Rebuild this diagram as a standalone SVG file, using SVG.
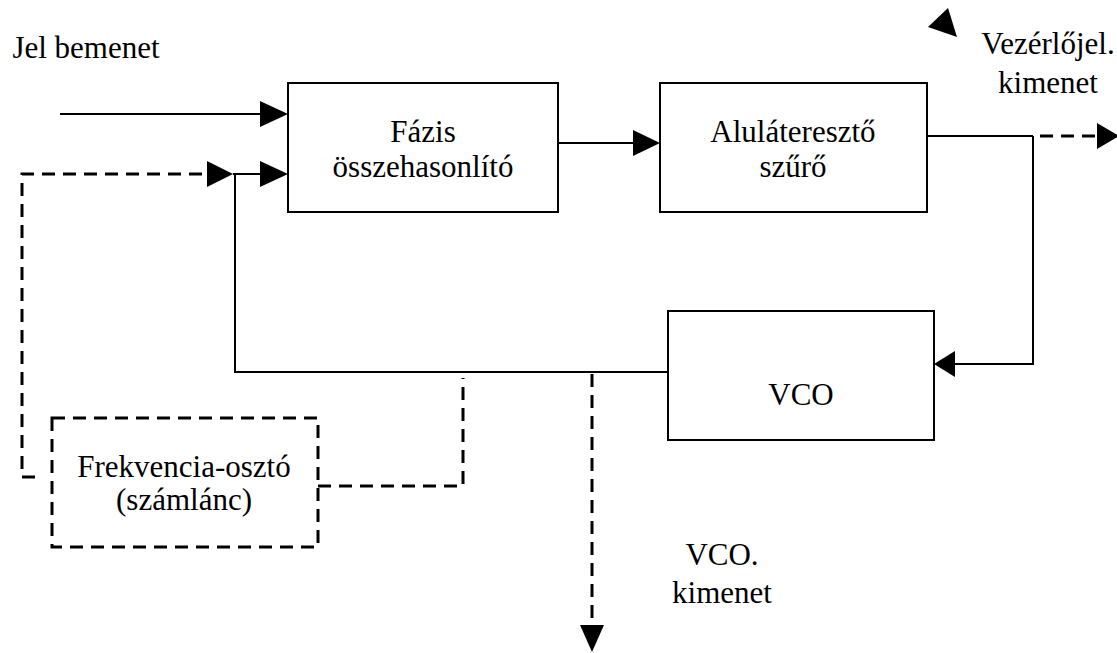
<svg xmlns="http://www.w3.org/2000/svg" width="1117" height="653" viewBox="0 0 1117 653">
<style>
text{font-family:"Liberation Serif","Times New Roman",serif;font-size:31px;fill:#000;text-anchor:middle}
.box{fill:#fff;stroke:#000;stroke-width:2}
.dbox{fill:none;stroke:#000;stroke-width:3;stroke-dasharray:13 8}
.s{fill:none;stroke:#000;stroke-width:2}
.d{fill:none;stroke:#000;stroke-width:3;stroke-dasharray:13 8}
.ah{fill:#000}
</style>
<rect width="1117" height="653" fill="#fff"/>
<g id="connectors">
  <line class="s" x1="60" y1="114" x2="262" y2="114"/>
  <polygon class="ah" points="260,101 288,114 260,127"/>
  <polyline class="d" points="35,477 22,477 22,174 209,174"/>
  <polygon class="ah" points="207,161 233,174 207,187"/>
  <line class="s" x1="233" y1="174" x2="262" y2="174"/>
  <polygon class="ah" points="260,161 288,174 260,187"/>
  <polyline class="s" points="235,174 235,372 668,372"/>
  <line class="s" x1="558" y1="143" x2="636" y2="143" stroke-width="3"/>
  <polygon class="ah" points="633,130 660,143 633,156"/>
  <line class="s" x1="927" y1="136" x2="1033" y2="136"/>
  <line class="d" x1="1040" y1="136" x2="1099" y2="136"/>
  <polygon class="ah" points="1097,123 1119,136 1097,149"/>
  <polyline class="s" points="1033,136 1033,364 953,364"/>
  <polygon class="ah" points="955,351 934,364 955,377"/>
  <polyline class="d" points="318,486 463,486 463,378"/>
  <line class="d" x1="592" y1="374" x2="592" y2="628"/>
  <polygon class="ah" points="580,625 604,625 592,652"/>
  <polygon class="ah" points="948,8 928,27 957,37"/>
</g>
<g id="phase">
  <rect class="box" x="288" y="83" width="270" height="129"/>
  <text x="423" y="142">Fázis</text>
  <text x="423" y="177">összehasonlító</text>
</g>
<g id="lowpass">
  <rect class="box" x="660" y="83" width="267" height="129"/>
  <text x="793" y="142">Aluláteresztő</text>
  <text x="793" y="177">szűrő</text>
</g>
<g id="vco">
  <rect class="box" x="668" y="311" width="266" height="129"/>
  <text x="801" y="405">VCO</text>
</g>
<g id="divider">
  <rect class="dbox" x="52" y="418" width="266" height="129"/>
  <text x="184" y="477">Frekvencia-osztó</text>
  <text x="184" y="510">(számlánc)</text>
</g>
<g id="labels">
  <text x="86" y="58">Jel bemenet</text>
  <text x="1048" y="54">Vezérlőjel.</text>
  <text x="1048" y="93">kimenet</text>
  <text x="722" y="565">VCO.</text>
  <text x="722" y="603">kimenet</text>
</g>
</svg>
